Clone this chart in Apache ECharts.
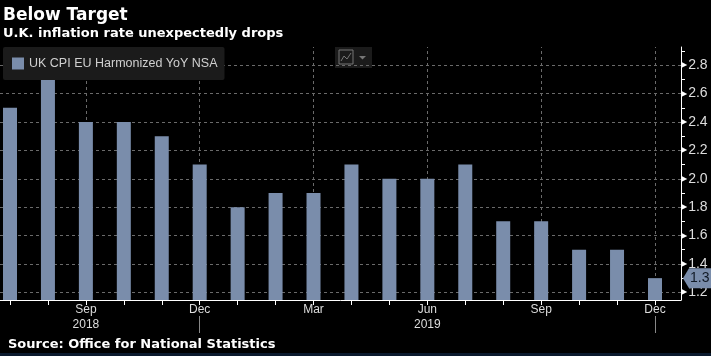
<!DOCTYPE html>
<html><head><meta charset="utf-8">
<script src="https://cdn.jsdelivr.net/npm/echarts@6/dist/echarts.min.js"></script>
<style>html,body{margin:0;padding:0;background:#000;}#c{width:711px;height:356px;}</style>
</head><body><div id="c"></div>
<script>
const months = ['Jul','Aug','Sep','Oct','Nov','Dec','Jan','Feb','Mar','Apr','May','Jun','Jul','Aug','Sep','Oct','Nov','Dec'];
const years = [2018,2018,2018,2018,2018,2018,2019,2019,2019,2019,2019,2019,2019,2019,2019,2019,2019,2019];
const values = [2.5,2.7,2.4,2.4,2.3,2.1,1.8,1.9,1.9,2.1,2.0,2.0,2.1,1.7,1.7,1.5,1.5,1.3];
const seriesName = 'UK CPI EU Harmonized YoY NSA';
const labelIdx = [2,5,8,11,14,17];
const yearLabelIdx = [2,11];
const yearSepIdx = [5,17];
const yMajor = [1.2,1.4,1.6,1.8,2.0,2.2,2.4,2.6,2.8];
const yMinor = [1.3,1.5,1.7,1.9,2.1,2.3,2.5,2.7,2.9];

const chart = echarts.init(document.getElementById('c'), null, {renderer:'canvas'});
const xMin = -0.2636, xMax = 17.686;
const AX = 'Liberation Sans';
const lastIdx = values.length-1;
const lastVal = values[lastIdx];
chart.setOption({
  backgroundColor:'#000',
  animation:false,
  textStyle:{fontFamily:AX},
  grid:{left:0, right:30, top:47, bottom:56, containLabel:false},
  legend:{
    data:[seriesName], left:3, top:47, icon:'rect', itemWidth:12, itemHeight:12,
    backgroundColor:'#1b1b1b', borderRadius:2, padding:[10,7,10,9],
    textStyle:{color:'#d0d0d0', fontSize:12.5, fontFamily:AX}
  },
  xAxis:[{
    type:'value', min:xMin, max:xMax, position:'bottom',
    axisLine:{show:true, onZero:false, lineStyle:{color:'#fff', width:1}},
    axisTick:{show:true, customValues: months.map((m,i)=>i), length:5, lineStyle:{color:'#fff'}},
    axisLabel:{show:true, customValues: labelIdx, formatter: v=>months[Math.round(v)], color:'#ddd', fontSize:12, margin:4},
    splitLine:{show:false}
  },{
    type:'value', min:xMin, max:xMax, position:'bottom', offset:16,
    axisLine:{show:false, onZero:false},
    axisTick:{show:true, customValues: yearSepIdx, length:17, lineStyle:{color:'#888'}},
    axisLabel:{show:true, customValues: yearLabelIdx, formatter: v=>String(years[Math.round(v)]), color:'#ddd', fontSize:12, margin:3},
    splitLine:{show:false}
  }],
  yAxis:{
    type:'value', position:'right', min:1.146, max:2.928, scale:true,
    axisLine:{show:true, onZero:false, lineStyle:{color:'#fff', width:1}},
    axisTick:{show:true, customValues: yMinor, length:4, lineStyle:{color:'#fff'}},
    axisLabel:{show:true, customValues: yMajor, margin:0,
      formatter: v=>'{t|\u25B6}{v|'+v.toFixed(1)+'}',
      rich:{t:{color:'#fff', fontSize:8, fontFamily:'DejaVu Sans', padding:[0,1,0,0]}, v:{color:'#ddd', fontSize:14, fontFamily:AX}}},
    splitLine:{show:false}
  },
  series:[{
    name:seriesName, type:'bar', xAxisIndex:0, barWidth:14, z:2,
    itemStyle:{color:'#7a8dab'},
    data: values.map((v,i)=>[i,v]),
    markLine:{
      silent:true, symbol:'none', z:1, animation:false,
      lineStyle:{type:[3,3], color:'#6a6a6a', width:1},
      label:{show:false},
      data: yMajor.map(v=>({yAxis:v})).concat(labelIdx.map(i=>({xAxis:i})))
    }
  }]
});
// last-value badge on the right axis, positioned through the chart's own scales
const p = chart.convertToPixel({xAxisIndex:0, yAxisIndex:0}, [xMax, lastVal]);
const ax = Math.round(p[0]) + 2, yc = p[1];
chart.setOption({graphic:[
  {id:'t1', type:'text', left:3, top:7, style:{text:'Below Target', fill:'#fff', font:'bold 17px "DejaVu Sans"'}},
  {id:'t2', type:'text', left:3, top:27, style:{text:'U.K. inflation rate unexpectedly drops', fill:'#fff', font:'bold 13px "DejaVu Sans"'}},
  {id:'t3', type:'text', left:8, top:338, style:{text:'Source: Office for National Statistics', fill:'#fff', font:'bold 13px "DejaVu Sans"'}},
  {id:'strip', type:'rect', shape:{x:0,y:353,width:711,height:3}, style:{fill:'#0b1a2e'}},
  {id:'icon', type:'group', children:[
    {type:'rect', shape:{x:335,y:47,width:37,height:21}, style:{fill:'#1b1b1b'}},
    {type:'rect', shape:{x:339,y:50,width:14,height:14}, style:{fill:'none', stroke:'#777', lineWidth:1}},
    {type:'polyline', shape:{points:[[341,61],[344,56],[347,59],[351,53]]}, style:{fill:'none', stroke:'#777', lineWidth:1}},
    {type:'polygon', shape:{points:[[359,56],[366,56],[362.5,59.5]]}, style:{fill:'#777'}}
  ]},
  {id:'badge', type:'polygon', z:10, shape:{points:[[ax, yc],[ax+6, yc-10],[711, yc-10],[711, yc+10],[ax+6, yc+10]]}, style:{fill:'#7a8dab'}},
  {id:'badgeText', type:'text', z:11, x:ax+7, y:yc, style:{text:lastVal.toFixed(1), fill:'#111a26', font:'14px "Liberation Sans"', verticalAlign:'middle'}}
]});
</script></body></html>
